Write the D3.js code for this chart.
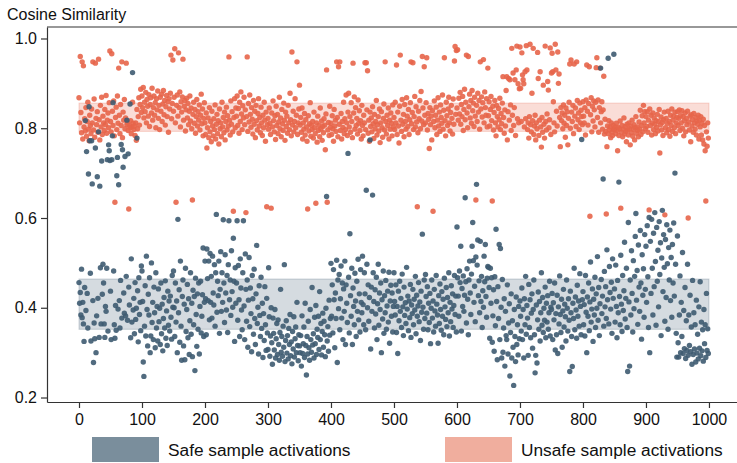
<!DOCTYPE html>
<html>
<head>
<script src="https://d3js.org/d3.v7.min.js"></script>
<style>
    body {margin: 0; background: #fff; font-family: Arial, "Liberation Sans", Helvetica, sans-serif;}
    svg text {fill: #111;}
</style>
</head>
<body>
<svg width="737" height="463"></svg>
<script>
// cosine similarity x 1000, one value per sample index 0..999
const unsafeScores = [
868,812,960,835,790,948,776,939,803,821,794,846,782,815,858,798,772,829,806,788,843,812,948,796,865,780,945,822,808,837,791,954,819,774,851,803,869,786,827,812,795,842,808,873,789,818,834,801,857,972,
815,792,966,838,806,861,783,635,824,847,797,872,811,934,829,788,853,806,948,779,836,818,864,799,823,945,808,812,795,620,806,801,817,788,803,858,811,797,805,784,812,773,842,799,826,868,807,853,887,835,
872,846,891,823,858,837,880,812,864,849,827,875,804,853,868,834,889,818,846,872,829,857,801,866,841,883,822,851,797,869,838,876,815,854,884,830,862,807,848,873,826,859,791,866,843,878,963,821,855,952,
838,869,977,812,635,851,874,827,968,846,881,803,859,836,870,954,818,849,862,794,841,867,823,855,808,838,872,816,845,799,640,831,858,811,842,789,826,864,805,837,818,852,796,829,876,810,843,783,822,857,
812,786,834,756,801,823,779,846,792,815,770,838,805,783,821,797,852,776,809,831,788,817,765,843,799,812,781,858,803,824,790,836,774,815,847,796,828,805,959,818,785,861,809,837,792,615,824,866,801,845,
827,872,806,844,789,858,815,881,832,797,850,823,869,808,841,612,826,959,793,855,814,874,831,802,846,820,787,862,809,838,779,851,817,796,833,866,805,824,790,847,812,784,829,801,858,818,771,836,625,808,
822,798,845,811,786,622,834,803,861,817,792,828,775,849,806,831,788,814,869,799,823,781,842,810,795,856,818,773,836,804,827,789,851,812,797,878,819,783,970,807,838,792,815,866,801,829,948,786,812,843,
896,807,824,791,845,776,812,798,833,785,819,803,771,620,828,794,810,857,782,806,797,815,778,836,801,788,633,812,769,827,795,806,781,845,799,816,773,804,790,821,807,752,832,930,635,796,813,784,849,802,
811,786,828,799,771,842,805,818,793,948,824,781,937,809,948,795,833,776,815,802,858,788,821,797,874,812,784,836,878,803,826,791,857,815,779,945,834,870,798,846,806,822,787,863,811,839,795,817,776,851,
806,783,829,812,946,797,946,841,928,789,818,771,836,804,823,792,848,810,777,831,799,815,862,785,808,826,794,843,768,812,837,801,780,822,854,796,948,815,787,829,806,845,776,818,798,834,811,783,852,803,
824,797,858,812,941,786,836,805,767,849,963,818,793,864,809,831,781,853,815,798,868,827,804,842,786,819,857,948,810,835,946,797,826,871,803,848,814,625,790,838,821,862,799,882,816,960,845,808,937,829,
812,857,957,796,833,820,755,846,808,827,774,839,615,815,861,801,829,847,786,818,868,805,836,793,852,824,811,874,798,840,957,817,783,858,828,806,843,869,812,794,835,851,822,787,865,809,950,982,831,973,
845,975,818,867,832,880,809,853,826,871,795,842,887,819,858,963,834,801,960,848,876,823,862,811,884,839,856,804,869,827,640,851,815,878,836,862,798,948,843,870,825,857,953,812,881,846,829,866,803,934,
828,859,805,842,871,817,638,849,796,835,862,812,783,851,826,803,844,819,867,797,833,810,856,915,824,789,841,805,884,915,774,837,911,818,908,852,795,978,829,923,806,846,908,784,930,983,821,899,812,888,
981,889,815,968,919,908,899,803,926,821,984,930,797,812,778,826,987,808,792,878,817,978,786,805,829,774,812,799,969,911,784,818,926,803,758,824,791,896,809,778,983,815,796,832,904,885,801,819,979,786,
923,967,926,859,812,792,987,930,838,805,970,900,921,824,759,846,817,834,799,852,811,829,780,845,806,837,763,822,858,943,800,952,836,815,851,788,943,827,845,804,948,862,819,834,797,856,812,840,826,808,
859,827,812,846,785,863,941,838,807,855,937,604,830,868,792,849,816,861,841,803,858,935,957,824,863,791,846,934,812,837,859,798,841,916,787,820,793,609,759,805,788,817,796,803,779,812,791,784,806,798,
797,803,788,811,795,750,802,784,799,816,622,791,806,781,798,823,787,804,793,770,809,796,785,812,799,763,805,790,818,782,797,808,774,801,826,789,803,795,781,814,798,840,786,806,828,792,851,812,837,799,
826,804,837,791,818,618,843,806,829,785,812,834,797,823,809,788,817,802,831,794,815,842,745,808,825,796,813,784,819,836,607,801,822,790,811,838,797,815,782,829,806,843,793,818,827,801,836,788,812,824,
837,806,822,841,795,828,812,839,800,826,783,817,834,792,822,808,838,600,814,796,827,770,830,805,819,791,833,812,798,824,785,816,809,829,776,818,803,826,785,811,774,820,765,806,750,638,792,760,812,778
];

const safeScores = [
456,410,434,384,486,378,412,364,325,445,817,394,748,432,355,698,848,772,477,326,772,676,416,278,366,331,756,300,382,692,421,792,334,671,489,364,727,430,497,455,364,334,403,392,488,730,348,763,750,728,
437,329,730,783,857,482,362,332,405,350,694,735,397,674,416,355,461,764,377,752,713,433,388,737,382,470,818,372,743,446,406,854,333,509,368,924,395,421,342,456,374,399,778,438,324,467,385,412,349,493,
482,414,279,247,359,449,337,515,396,315,430,384,467,300,337,500,367,412,329,446,389,311,478,355,403,326,442,369,399,318,455,342,408,304,376,423,355,460,332,393,316,437,361,415,348,426,379,330,472,401,
482,400,336,455,368,415,300,597,389,440,323,504,359,283,425,462,315,408,284,488,347,396,452,333,420,296,371,478,341,410,291,439,362,425,260,466,385,314,431,352,455,297,403,459,344,381,429,533,336,412,
504,420,340,531,465,416,504,373,521,412,470,377,515,433,406,496,359,478,608,390,459,427,504,343,441,525,392,478,412,596,455,367,518,433,395,472,345,496,594,418,462,383,527,436,401,555,459,325,489,410,
455,594,372,494,418,336,509,444,395,351,478,594,404,329,520,441,370,462,312,417,512,358,444,387,302,472,420,341,486,376,318,431,539,365,401,297,449,383,336,468,354,410,289,387,327,447,362,305,421,344,
307,489,380,292,337,400,322,274,377,343,306,396,288,331,365,296,373,318,283,345,441,301,336,292,359,312,496,280,327,371,299,338,286,354,318,385,293,324,275,347,308,380,290,331,357,300,412,316,282,340,
315,300,338,270,382,298,320,357,289,410,316,250,336,297,370,311,283,396,329,301,445,317,342,288,379,320,405,296,352,334,381,307,436,329,365,295,347,388,312,370,340,291,399,648,326,358,303,417,339,376,
499,381,451,344,485,418,311,433,376,506,278,462,398,474,351,420,493,377,455,329,442,392,504,318,451,410,367,744,468,344,565,427,381,488,318,444,403,362,477,415,336,459,392,508,373,431,346,485,412,389,
515,407,362,478,431,351,662,497,400,451,370,423,774,308,446,392,651,478,414,355,440,386,468,329,409,497,361,433,396,455,300,418,375,482,343,427,389,461,352,404,437,368,479,321,415,450,381,433,346,403,
478,414,384,451,345,403,298,437,371,459,392,421,356,475,402,338,446,383,411,365,490,397,426,349,415,378,452,334,406,387,441,362,419,395,470,342,428,381,404,456,369,413,327,437,390,564,401,352,462,376,
474,425,388,447,351,410,367,432,320,399,462,377,415,346,441,393,359,472,408,384,321,427,365,453,396,350,436,381,419,340,466,402,374,445,358,423,389,478,337,412,369,449,397,431,356,405,472,385,426,346,
580,467,426,381,482,456,537,348,443,403,471,392,428,645,458,366,487,419,340,462,504,433,385,475,537,590,505,412,448,369,513,675,495,551,427,460,389,548,414,470,356,438,401,515,458,541,425,379,466,492,
490,445,332,488,410,467,323,382,440,303,469,360,575,414,284,447,376,541,329,532,401,288,463,301,355,420,270,392,338,329,451,297,366,409,248,345,431,288,371,312,227,396,336,280,424,318,362,295,403,331,
415,381,348,444,329,396,288,420,362,470,341,405,377,294,452,356,418,333,388,431,310,396,462,340,255,294,406,277,373,435,352,414,326,389,478,361,423,345,399,372,446,333,410,368,427,352,389,459,337,401,
396,432,329,411,373,455,306,387,340,428,298,402,364,471,385,345,419,312,393,441,357,408,380,326,462,399,348,420,372,258,437,389,336,269,410,376,488,351,424,395,332,450,381,415,359,476,403,340,775,418,
436,362,407,337,472,390,300,424,381,455,349,413,502,368,397,442,325,419,384,468,356,431,399,514,372,445,338,409,934,463,387,426,687,359,481,402,447,376,529,418,956,364,492,434,397,457,343,509,421,965,
442,368,495,403,333,461,389,680,425,362,517,408,347,472,394,438,546,375,421,488,356,258,590,413,270,462,384,527,432,346,505,398,470,559,610,417,483,363,540,446,392,572,455,330,518,428,487,379,563,441,
537,412,583,469,356,601,300,548,432,597,488,384,566,447,612,503,361,579,459,528,402,592,474,545,338,511,617,436,563,490,370,552,423,585,498,352,534,462,573,416,512,379,541,455,589,426,700,497,343,290,
560,322,290,384,471,300,412,336,523,298,394,309,445,287,371,305,497,294,384,316,428,302,357,274,461,296,389,308,362,279,417,299,341,286,402,310,458,293,368,304,351,281,396,320,362,289,432,305,353,298
];

// shaded ranges, drawn over sample index 0..1000
const safeBand = [0.352, 0.464];
const unsafeBand = [0.793, 0.856];

const xTicks = [0, 100, 200, 300, 400, 500, 600, 700, 800, 900, 1000];
const yTicks = [0.2, 0.4, 0.6, 0.8, 1.0];
const legendLabels = ["Safe sample activations", "Unsafe sample activations"];

const safeColor = "#3e5b71";
const unsafeColor = "#e7654a";

let svg = d3.select("svg");

let x = d3.scaleLinear().domain([-50.8, 1044.5]).range([47, 737]);
let y = d3.scaleLinear().domain([0.19, 1.0256]).range([402, 27]);

// bands
function band(range, color) {
    svg.append("rect")
        .attr("x", x(0))
        .attr("width", x(1000) - x(0))
        .attr("y", y(range[1]))
        .attr("height", y(range[0]) - y(range[1]))
        .attr("fill", color)
        .attr("fill-opacity", 0.22)
        .attr("stroke", color)
        .attr("stroke-opacity", 0.25)
        .attr("stroke-width", 1);
}
band(safeBand, safeColor);
band(unsafeBand, unsafeColor);

// points
function dots(values, color) {
    svg.append("g")
        .selectAll("circle")
        .data(values)
        .enter()
        .append("circle")
        .attr("cx", (d, i) => x(i))
        .attr("cy", d => y(d / 1000))
        .attr("r", 2.7)
        .attr("fill", color)
        .attr("fill-opacity", 0.9);
}
dots(unsafeScores, unsafeColor);
dots(safeScores, safeColor);

// axes
let yAxis = svg.append("g")
    .attr("transform", "translate(47,0)")
    .call(d3.axisLeft(y).tickValues(yTicks).tickFormat(d3.format(".1f"))
        .tickSize(6).tickSizeOuter(0).tickPadding(4));

let xAxis = svg.append("g")
    .attr("transform", "translate(0,402)")
    .call(d3.axisBottom(x).tickValues(xTicks).tickFormat(d3.format("d"))
        .tickSize(6).tickSizeOuter(0).tickPadding(6));

[xAxis, yAxis].forEach(g => {
    g.attr("font-family", null).attr("font-size", null);
    g.selectAll("text").style("font-size", "16px");
    g.selectAll("line, path").attr("stroke", "#333").attr("stroke-width", 1.2);
});

// top frame line
svg.append("line")
    .attr("x1", 47).attr("x2", 737)
    .attr("y1", 27).attr("y2", 27)
    .attr("stroke", "#333").attr("stroke-width", 1.2);

// title
svg.append("text")
    .attr("x", 7).attr("y", 19.5)
    .style("font-size", "16px")
    .text("Cosine Similarity");

// legend
let legendX = [92, 445];
let legendColors = ["#7a8e9c", "#f0ae9e"];
legendLabels.forEach((label, i) => {
    svg.append("rect")
        .attr("x", legendX[i]).attr("y", 437)
        .attr("width", 67).attr("height", 25)
        .attr("fill", legendColors[i]);
    svg.append("text")
        .attr("x", legendX[i] + 76).attr("y", 455.5)
        .style("font-size", "17.3px")
        .text(label);
});
</script>
</body>
</html>
